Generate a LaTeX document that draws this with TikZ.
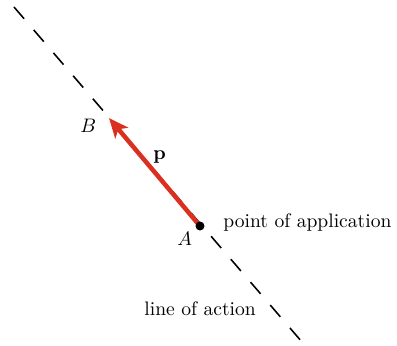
\documentclass[tikz,border=0pt]{standalone}
\usetikzlibrary{arrows.meta}
\definecolor{forcered}{RGB}{218,48,32}
\begin{document}
\begin{tikzpicture}[x=0.511pt,y=-0.511pt,
  actionline/.style={black,line width=0.8pt,dash pattern=on 7.9pt off 7.55pt},
  forcevec/.style={forcered,line width=2.3pt,-{Stealth[length=10pt,width=8.5pt,inset=2.5pt]}},
  lbl/.style={inner sep=0pt,font=\fontsize{10}{12}\selectfont}]
\useasboundingbox (0,0) rectangle (397,345);
\coordinate (L1) at (14,7);
\coordinate (L2) at (302,342);
\coordinate (A) at (200,226);
\coordinate (B) at (109,118);
\draw[actionline] (L1) -- (L2);
\draw[forcevec] (A) -- (B);
\fill[black] (A) circle (2.3pt);
\node[lbl,anchor=base west] (lB) at (80,132) {$B$};
\node[lbl,anchor=base west] (lp) at (153,159) {$\mathbf{p}$};
\node[lbl,anchor=base west] (lA) at (177,245) {$A$};
\node[lbl,anchor=base west] (lpa) at (223,227) {point of application};
\node[lbl,anchor=base west] (lla) at (144,315) {line of action};
\end{tikzpicture}
\end{document}
